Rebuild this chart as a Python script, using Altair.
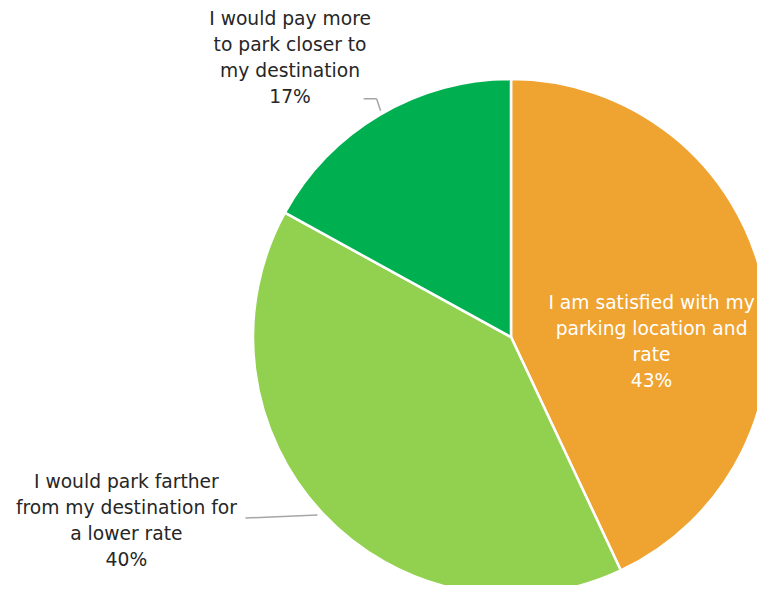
import altair as alt
import pandas as pd

categories = [
    "I am satisfied with my parking location and rate",
    "I would park farther from my destination for a lower rate",
    "I would pay more to park closer to my destination",
]
label_lines = [
    "I am satisfied with my\nparking location and\nrate",
    "I would park farther\nfrom my destination for\na lower rate",
    "I would pay more\nto park closer to\nmy destination",
]
values = [43, 40, 17]
colors = ["#EFA330", "#92D050", "#00B050"]

df = pd.DataFrame({
    "cat": categories,
    "value": values,
    "order": [0, 1, 2],
    "label": [f"{t}\n{v}%" for t, v in zip(label_lines, values)],
})

CX, CY, R = 503, 329, 258
FONT = "DejaVu Sans"
FS = 18.7

arcs = alt.Chart(df).mark_arc(outerRadius=R, stroke="white", strokeWidth=2.5).encode(
    theta=alt.Theta("value:Q", stack=True),
    color=alt.Color("cat:N", scale=alt.Scale(domain=categories, range=colors), legend=None),
    order=alt.Order("order:Q"),
    x=alt.value(CX),
    y=alt.value(CY),
)

base = alt.Chart(df).transform_window(
    cum="sum(value)", sort=[alt.SortField("order")], frame=[None, 0]
).transform_calculate(
    mid="2*PI*(datum.cum - datum.value/2)/100"
)

def label_layer(idx, r, dx, dy, color):
    return base.transform_filter(f"datum.order == {idx}").transform_calculate(
        px=f"{CX} + {r}*sin(datum.mid) + {dx}",
        py=f"{CY} - {r}*cos(datum.mid) + {dy}",
    ).mark_text(
        font=FONT, fontSize=FS, lineBreak="\n", lineHeight=26,
        align="center", baseline="middle", color=color,
    ).encode(
        x=alt.X("px:Q", scale=None, axis=None),
        y=alt.Y("py:Q", scale=None, axis=None),
        text="label:N",
    )

def seg(idx, r0, ox, oy, ax, ay, bx, by, color="#A6A6A6"):
    sx = f"{CX} + {r0}*sin(datum.mid) + {ox}"
    sy = f"{CY} - {r0}*cos(datum.mid) + {oy}"
    return base.transform_filter(f"datum.order == {idx}").transform_calculate(
        px=f"{sx} + {ax}",
        py=f"{sy} + {ay}",
        px2=f"{sx} + {bx}",
        py2=f"{sy} + {by}",
    ).mark_rule(color=color, strokeWidth=1.5).encode(
        x=alt.X("px:Q", scale=None, axis=None),
        y=alt.Y("py:Q", scale=None, axis=None),
        x2="px2:Q",
        y2="py2:Q",
    )

lab0 = label_layer(0, 142, 2, -3, "white")
lab1 = label_layer(1, 267, -190, -38, "#262626")
lab2 = label_layer(2, 326, -55, -37, "#262626")

lead2a = seg(2, 264, 4, 1, 0, 0, -4, -12)
lead2b = seg(2, 264, 4, 1, -4, -12, -17, -12)
lead1 = seg(1, 260, -4, 0, 0, 0, -72, 3)

chart = alt.layer(arcs, lead1, lead2a, lead2b, lab0, lab1, lab2).properties(
    width=749, height=577,
    autosize=alt.AutoSizeParams(type="none"),
    padding=0,
).configure_view(stroke=None)

chart.save("out.html", embed_options={"renderer": "svg", "actions": False})
